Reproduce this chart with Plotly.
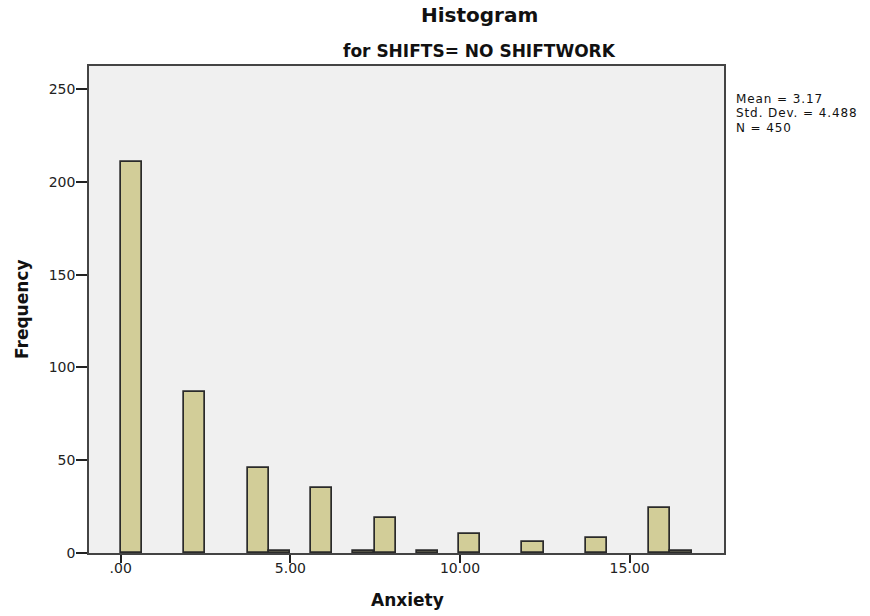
import plotly.graph_objects as go

# Histogram of Anxiety scores for the NO SHIFTWORK group
bin_left = [0.00, 1.87, 3.74, 4.36, 5.61, 6.85, 7.48, 8.72, 9.97, 11.84, 13.71, 15.58, 16.20]
counts = [211, 87, 46, 1, 35, 1, 19, 1, 10, 6, 8, 24, 1]
BIN_WIDTH = 0.623

x_tick_vals = [0, 5, 10, 15]
x_tick_text = [".00", "5.00", "10.00", "15.00"]
y_tick_vals = [0, 50, 100, 150, 200, 250]

stats_lines = ["Mean = 3.17", "Std. Dev. = 4.488", "N = 450"]

FONT = "DejaVu Sans, Arial, sans-serif"
BAR_FILL = "#D2CD98"
EDGE = "#2a2a2a"

fig = go.Figure()
fig.add_trace(go.Bar(
    x=bin_left,
    y=counts,
    width=[BIN_WIDTH] * len(bin_left),
    offset=0,
    marker=dict(color=BAR_FILL, line=dict(color=EDGE, width=1.7)),
    hoverinfo="x+y",
    showlegend=False,
))

L, R, T, B = 89, 146, 66, 63
W, H = 870, 616
pw, ph = W - L - R, H - T - B


def px_x(px):
    return (px - L) / pw


def px_y(py):
    return (H - B - py) / ph


# statistics block: 12px glyphs, slightly tracked out, on a ~14px line pitch
stats_text = "<br>".join(
    f"<span style='font-size:12px;letter-spacing:0.9px'>{line}</span>" for line in stats_lines
)

annotations = [
    dict(text="<b>Histogram</b>", x=px_x(479), y=px_y(15), xref="paper", yref="paper",
         xanchor="center", yanchor="middle", showarrow=False,
         font=dict(family=FONT, size=20, color="#111")),
    dict(text="<b>for SHIFTS= NO SHIFTWORK</b>", x=px_x(479), y=px_y(51), xref="paper", yref="paper",
         xanchor="center", yanchor="middle", showarrow=False,
         font=dict(family=FONT, size=17, color="#111")),
    dict(text="<b>Anxiety</b>", x=px_x(407), y=px_y(600), xref="paper", yref="paper",
         xanchor="center", yanchor="middle", showarrow=False,
         font=dict(family=FONT, size=17, color="#111")),
    dict(text="<b>Frequency</b>", x=px_x(22), y=px_y(309), xref="paper", yref="paper",
         xanchor="center", yanchor="middle", showarrow=False, textangle=-90,
         font=dict(family=FONT, size=17, color="#111")),
    dict(text=stats_text, x=px_x(734), y=px_y(113), xref="paper", yref="paper",
         xanchor="left", yanchor="middle", align="left", showarrow=False,
         font=dict(family=FONT, size=11, color="#111")),
]

fig.update_layout(
    width=W, height=H,
    margin=dict(l=L, r=R, t=T, b=B, pad=0),
    paper_bgcolor="white",
    plot_bgcolor="#F0F0F0",
    bargap=0,
    annotations=annotations,
    font=dict(family=FONT, color="#222"),
)
fig.update_xaxes(
    range=[-0.934, 17.78],
    tickvals=x_tick_vals, ticktext=x_tick_text,
    ticks="outside", ticklen=8, tickwidth=1.5, tickcolor="#222",
    ticklabelstandoff=-7,
    tickfont=dict(family=FONT, size=14, color="#222"),
    showgrid=False, zeroline=False,
    showline=True, mirror=True, linecolor="#444", linewidth=1.5,
)
fig.update_yaxes(
    range=[0, 262.5],
    tickvals=y_tick_vals,
    ticks="outside", ticklen=11, tickwidth=1.5, tickcolor="#222",
    ticklabelstandoff=-2,
    tickfont=dict(family=FONT, size=14, color="#222"),
    showgrid=False, zeroline=False,
    showline=True, mirror=True, linecolor="#444", linewidth=1.5,
)

fig.write_html("out.html")
